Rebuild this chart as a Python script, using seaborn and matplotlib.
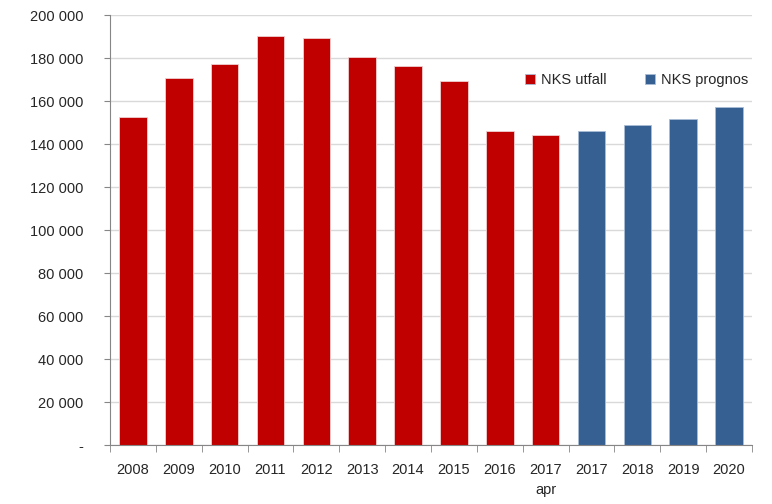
import matplotlib
matplotlib.use("Agg")
import matplotlib.pyplot as plt
import pandas as pd
import numpy as np
import seaborn as sb
from matplotlib.ticker import FuncFormatter, FixedLocator

# verdier
aar = ["2008", "2009", "2010", "2011", "2012", "2013", "2014", "2015", "2016", "2017\napr",
       "2017", "2018", "2019", "2020"]
verdi = [152700, 170700, 177100, 190500, 189200, 180300, 176100, 169300, 145900, 144000,
         145900, 148700, 151600, 157200]
serie = ["NKS utfall"] * 10 + ["NKS prognos"] * 4

df = pd.DataFrame({"aar": aar, "antall": verdi, "serie": serie})

sb.set_style("white")
plt.rcParams['font.family'] = ['Liberation Sans', 'DejaVu Sans']

f, ax = plt.subplots(figsize=(7.72, 5.04), dpi=100)
plt.subplots_adjust(left=0.1425, right=0.974, bottom=0.117, top=0.970)

farger = {"NKS utfall": "#C00000", "NKS prognos": "#376092"}
sb.barplot(x="aar", y="antall", hue="serie", data=df, order=aar, palette=farger,
           dodge=False, width=0.6, saturation=1, edgecolor="#f0d0d0", linewidth=0.6, ax=ax)
for p in ax.patches[10:]:
    p.set_edgecolor("#a9bdd6")

ax.set_ylim(0, 200000)
ax.set_xlim(-0.5, len(aar) - 0.5)
ax.set_yticks(np.arange(0, 200001, 20000))
ax.yaxis.set_major_formatter(FuncFormatter(lambda v, pos: "-" if v == 0 else f"{int(v):,}".replace(",", " ")))
ax.yaxis.grid(True, color="#d9d9d9", linewidth=1)
ax.set_axisbelow(True)

# x-tikker mellom søylene
ax.xaxis.set_minor_locator(FixedLocator(np.arange(-0.5, len(aar), 1)))
ax.tick_params(axis="x", which="major", length=0, pad=13, labelsize=10.5, colors="#262626")
ax.tick_params(axis="x", which="minor", length=5, color="#868686", bottom=True)
ax.tick_params(axis="y", which="major", length=4, color="#868686", left=True, pad=15,
               labelsize=10.5, labelcolor="#262626")
for lbl in ax.get_xticklabels():
    lbl.set_linespacing(1.5)

for s in ["top", "right"]:
    ax.spines[s].set_visible(False)
ax.spines["left"].set_color("#868686")
ax.spines["bottom"].set_color("#868686")
ax.set_xlabel("")
ax.set_ylabel("")

ax.legend(loc="center", bbox_to_anchor=(0.82, 0.849), ncol=2, frameon=False,
          handlelength=0.7, handleheight=0.7, handletextpad=0.4, columnspacing=2.6,
          fontsize=10.5, title=None)

plt.savefig("out.png", dpi=100)
